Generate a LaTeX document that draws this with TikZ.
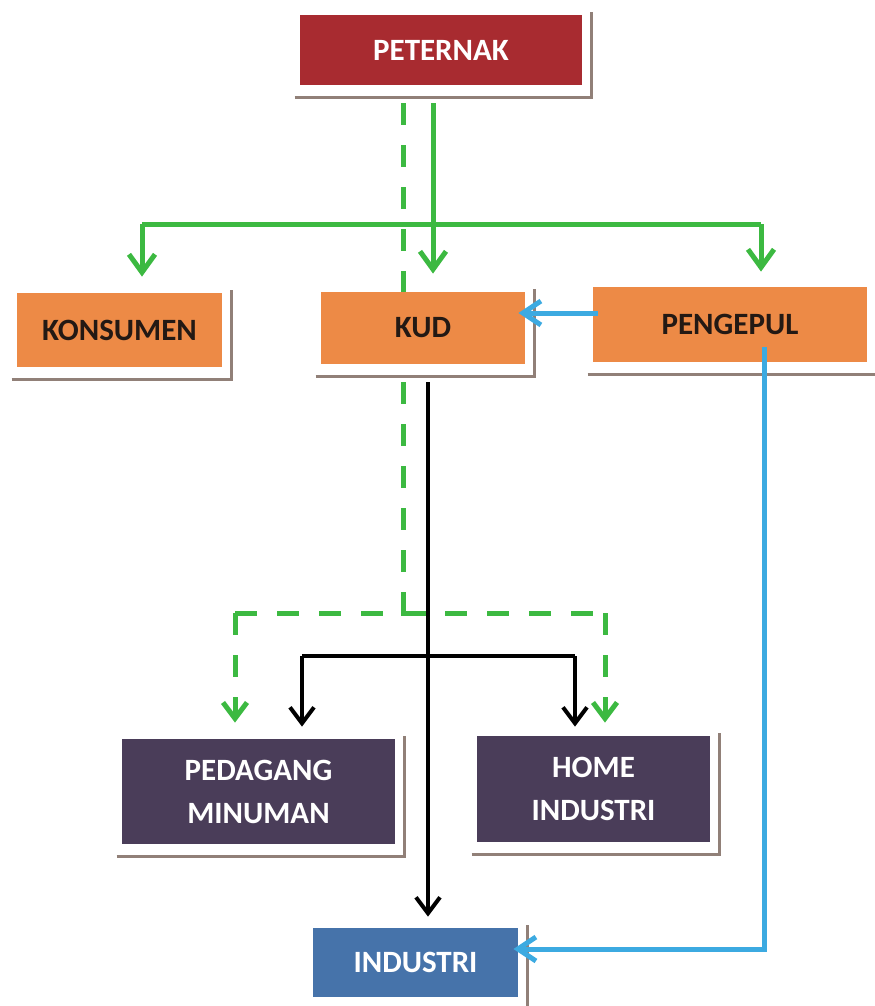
\documentclass[tikz,border=0pt]{standalone}
\usepackage{fontspec}
\setmainfont{Carlito}
\usepackage{tikz}
\usetikzlibrary{arrows.meta}
\definecolor{boxred}{RGB}{168,43,48}
\definecolor{boxorange}{RGB}{237,138,70}
\definecolor{boxpurple}{RGB}{74,61,89}
\definecolor{boxblue}{RGB}{70,115,170}
\definecolor{flowgreen}{RGB}{60,185,65}
\definecolor{flowblue}{RGB}{60,170,225}
\definecolor{shadowgray}{RGB}{145,128,120}
\definecolor{darktext}{RGB}{35,25,20}

\begin{document}
\begin{tikzpicture}[x=0.5pt, y=-0.5pt,
    chainbox/.style={rectangle, inner sep=0pt, align=center, font=\fontsize{15.5}{21.5}\selectfont\bfseries},
    redbox/.style={chainbox, fill=boxred, text=white},
    orangebox/.style={chainbox, fill=boxorange, text=darktext},
    purplebox/.style={chainbox, fill=boxpurple, text=white},
    bluebox/.style={chainbox, fill=boxblue, text=white},
    boxshadow/.style={draw=shadowgray, line width=1.5pt},
    gline/.style={flowgreen, line width=2.5pt},
    garrow/.style={gline, -{Straight Barb[length=9pt,width=13pt]}},
    gdash/.style={gline, dash pattern=on 11pt off 10pt},
    kline/.style={black, line width=2pt},
    karrow/.style={kline, -{Straight Barb[length=8pt,width=12pt]}},
    bline/.style={flowblue, line width=2.5pt},
    barrow/.style={bline, -{Straight Barb[length=9pt,width=12pt]}}
]
\useasboundingbox (0,0) rectangle (874,1006);

\node[redbox, minimum width=141pt, minimum height=35pt] (peternak) at (441,50) {PETERNAK};
\node[orangebox, minimum width=102.5pt, minimum height=37pt] (konsumen) at (119.5,330) {KONSUMEN};
\node[orangebox, minimum width=102pt, minimum height=36pt] (kud) at (423,328) {KUD};
\node[orangebox, minimum width=137pt, minimum height=37.5pt] (pengepul) at (730,324.5) {PENGEPUL};
\node[purplebox, minimum width=136.5pt, minimum height=52.5pt] (pedagang) at (258.5,791.5) {PEDAGANG\\MINUMAN};
\node[purplebox, minimum width=116.5pt, minimum height=53pt] (home) at (593.5,789) {HOME\\INDUSTRI};
\node[bluebox, minimum width=102.5pt, minimum height=34.5pt] (industri) at (415.5,962.5) {INDUSTRI};

\foreach \n in {peternak,konsumen,kud,pengepul,pedagang,home,industri}
  \draw[boxshadow] ([xshift=-2.5pt,yshift=-6pt]\n.south west) -| ([xshift=4.5pt,yshift=1.5pt]\n.north east);

\coordinate (gsplit) at (433,224);
\coordinate (gleft) at (142,224);
\coordinate (gright) at (761,224);
\coordinate (dsplit) at (403,613);
\coordinate (dleft) at (235,613);
\coordinate (dright) at (605,613);
\coordinate (ksplit) at (428,656);
\coordinate (kleft) at (302,656);
\coordinate (kright) at (575,656);
\coordinate (bmid) at (560,313);
\coordinate (bcorner) at (764,949);

\draw[garrow, shorten <=9pt, shorten >=9pt] (peternak.south -| gsplit) -- (kud.north -| gsplit);
\draw[gline] (gleft) -- (gright);
\draw[garrow, shorten >=8pt] (gleft) -- (konsumen.north -| gleft);
\draw[garrow, shorten >=7.5pt] (gright) -- (pengepul.north -| gright);

\draw[gdash, shorten <=9pt] (peternak.south -| dsplit) -- (kud.north -| dsplit);
\draw[gdash, shorten <=9pt] (kud.south -| dsplit) -- (dsplit) -- (dsplit -| ksplit);
\draw[gdash] (dleft) -- (dright);
\draw[gdash, -{Straight Barb[length=8pt,width=12pt]}, shorten >=8pt] (dleft) -- (pedagang.north -| dleft);
\draw[gdash, -{Straight Barb[length=8pt,width=12pt]}, shorten >=6.5pt] (dright) -- (home.north -| dright);

\draw[karrow, shorten <=9pt, shorten >=5.5pt] (kud.south -| ksplit) -- (industri.north -| ksplit);
\draw[kline] (kleft) -- (kright);
\draw[karrow, shorten >=6pt] (kleft) -- (pedagang.north -| kleft);
\draw[karrow, shorten >=4.5pt] (kright) -- (home.north -| kright);

\draw[barrow, shorten <=-2.5pt, shorten >=-3.5pt] (pengepul.west |- bmid) -- (kud.east |- bmid);
\draw[barrow, shorten <=-7.5pt, shorten >=-2.5pt] (pengepul.south -| bcorner) -- (bcorner) -- (industri.east |- bcorner);
\end{tikzpicture}
\end{document}
